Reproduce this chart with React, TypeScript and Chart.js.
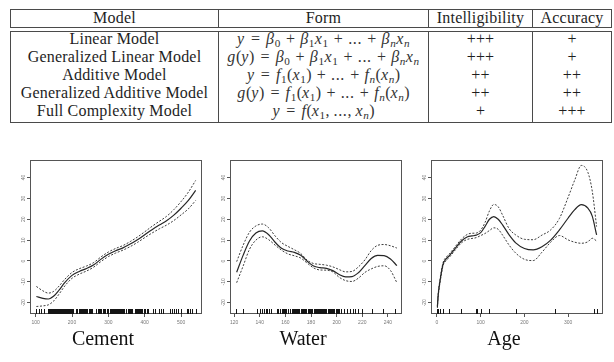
import React, { useEffect, useRef } from "react";
import { Chart, registerables } from "chart.js";

Chart.register(...registerables);

// ---- Summary table ----
const HEADERS = ["Model", "Form", "Intelligibility", "Accuracy"];
const MODELS = [
  "Linear Model",
  "Generalized Linear Model",
  "Additive Model",
  "Generalized Additive Model",
  "Full Complexity Model",
];
const INTELLIGIBILITY = ["+++", "+++", "++", "++", "+"];
const ACCURACY = ["+", "+", "++", "++", "+++"];

// ---- Shape functions: fitted partial effect with upper / lower bands ----
const Y_RANGE = [-25.4, 48.4];
const Y_TICKS = [-20, -10, 0, 10, 20, 30, 40];

const CEMENT_RANGE = [84.5, 557.5];
const CEMENT_TICKS = [100, 200, 300, 400, 500];
const CEMENT_X = [102, 120, 135, 150, 165, 180, 200, 220, 240, 260, 280, 300, 320, 340, 360, 380, 400, 420, 440, 460, 480, 500, 520, 540];
const CEMENT_FIT = [-17.0, -17.9, -18.2, -16.8, -13.8, -10.4, -6.9, -5.0, -3.6, -1.8, 0.9, 3.2, 4.9, 6.3, 8.1, 10.2, 12.6, 15.0, 17.2, 19.3, 22.0, 25.3, 29.0, 33.8];
const CEMENT_UPPER = [-12.2, -14.3, -15.4, -14.5, -11.9, -8.8, -5.5, -3.7, -2.4, -0.7, 2.0, 4.3, 6.0, 7.4, 9.3, 11.5, 14.0, 16.6, 19.0, 21.4, 24.6, 28.5, 33.0, 38.6];
const CEMENT_LOWER = [-21.8, -21.5, -21.0, -19.1, -15.7, -12.0, -8.3, -6.3, -4.8, -2.9, -0.2, 2.1, 3.8, 5.2, 6.9, 8.9, 11.2, 13.4, 15.4, 17.2, 19.4, 22.1, 25.0, 29.0];
const CEMENT_RUG = [102, 108.3, 116, 122.6, 133, 134.7, 136, 139.6, 141.3, 143, 144, 146.5, 148.5, 150, 151.8, 153, 154.8, 156, 158.6, 160, 162, 164, 165, 166.8, 168, 168.9, 173, 175, 176, 178, 181.4, 183.9, 186, 190, 192, 194.7, 196, 198.6, 200, 203.5, 212, 213.7, 214.9, 218.2, 220.8, 222.4, 225, 228, 230, 231.8, 233.8, 236, 238, 239.6, 242.5, 246.8, 250, 252, 254, 255.5, 266, 272.8, 275, 276.4, 277, 280, 281, 284, 286, 288, 290.4, 295.7, 297.2, 298, 300, 304, 305, 307, 310, 312.9, 314, 315, 316.1, 317.9, 320, 322, 323.7, 325, 326, 329, 331, 332.5, 335, 337.9, 339, 340, 342, 348, 349, 354, 355, 356, 359, 362.6, 364, 366, 374, 375, 376, 377, 380, 381.4, 382, 385, 387, 389.9, 393, 397, 401.8, 405, 409, 424, 428, 439, 446, 450.1, 469, 475, 480, 485, 491, 500, 516, 520, 525, 531.3, 540];

const WATER_RANGE = [116.8, 251];
const WATER_TICKS = [120, 140, 160, 180, 200, 220, 240];
const WATER_X = [122, 127, 132, 137, 142, 147, 152, 157, 162, 167, 172, 177, 182, 187, 192, 197, 202, 207, 212, 217, 222, 227, 232, 237, 242, 247];
const WATER_FIT = [-5.4, 2.7, 9.6, 13.4, 14.4, 12.6, 9.0, 6.1, 4.8, 4.1, 2.7, -0.1, -2.4, -3.2, -3.5, -4.6, -6.5, -7.6, -7.5, -5.6, -2.2, 1.2, 2.7, 2.6, 1.0, -2.2];
const WATER_UPPER = [-0.3, 7.5, 13.8, 16.8, 17.7, 15.9, 12.0, 8.8, 7.0, 5.4, 3.6, 0.4, -1.2, -1.6, -2.0, -2.8, -4.1, -5.2, -5.0, -2.8, 0.5, 5.0, 7.5, 7.9, 7.3, 6.2];
const WATER_LOWER = [-10.4, -2.5, 5.6, 10.0, 11.6, 10.2, 7.6, 5.2, 3.4, 2.5, 1.4, -1.0, -3.3, -4.3, -4.4, -5.2, -7.8, -9.4, -9.8, -8.2, -5.5, -3.8, -2.6, -2.3, -4.5, -10.4];
const WATER_RUG = [121.8, 127.3, 137.8, 139.9, 141.8, 143.3, 144.7, 145.9, 147.4, 148.9, 153.5, 154.6, 155.6, 157, 157.9, 158.5, 159.1, 159.9, 160.7, 162, 163.8, 164.9, 165.6, 166.6, 167.5, 168, 169.2, 170, 171, 172.4, 173, 173.5, 174.8, 175.5, 176, 176.4, 177.6, 178, 178.5, 179.6, 180, 181.1, 182, 183, 183.8, 184, 185, 185.7, 186, 186.7, 187.7, 188.2, 189, 190.5, 191, 191.6, 192, 192.9, 193, 193.9, 194.9, 195, 195.5, 196, 197, 198, 199.7, 200, 200.6, 201.3, 202, 203.5, 205.9, 208, 210.6, 212.7, 214.5, 217, 219.7, 227.6, 236.2, 245.8];

const AGE_RANGE = [-13.6, 379.6];
const AGE_TICKS = [0, 100, 200, 300];
const AGE_X = [1, 3, 7, 14, 21, 28, 40, 56, 70, 80, 90, 100, 110, 120, 130, 140, 150, 165, 180, 200, 220, 240, 260, 280, 300, 315, 330, 345, 355, 365];
const AGE_FIT = [-22.0, -16.0, -9.6, -1.5, 1.0, 2.5, 5.6, 9.6, 11.6, 12.0, 12.4, 13.6, 16.6, 20.0, 21.3, 20.0, 17.3, 12.5, 8.7, 6.0, 5.3, 6.8, 10.0, 14.9, 20.6, 24.6, 27.0, 25.3, 21.5, 12.5];
const AGE_UPPER = [-21.5, -15.3, -8.8, -0.8, 1.8, 3.3, 6.4, 10.5, 12.8, 13.3, 13.4, 14.8, 18.5, 24.0, 27.1, 26.0, 22.0, 15.5, 12.5, 10.4, 10.2, 12.4, 14.9, 20.4, 30.6, 38.8, 45.8, 42.5, 33.5, 16.5];
const AGE_LOWER = [-22.5, -16.7, -10.4, -2.2, 0.2, 1.7, 4.8, 8.7, 10.4, 10.8, 11.2, 12.2, 13.2, 14.6, 15.9, 15.2, 12.4, 7.6, 3.8, 0.8, 0.2, 4.2, 9.0, 12.2, 10.1, 9.0, 8.5, 9.2, 10.9, 9.6];
const AGE_RUG = [1, 3, 7, 14, 28, 56, 90, 91, 100, 120, 180, 270, 360, 365];

// ---- Math typesetting helpers for the "Form" column ----
const V = ({ children }: { children: React.ReactNode }) => (
  <span style={{ fontStyle: "italic", letterSpacing: "0.04em" }}>{children}</span>
);
const Sb = ({ children, it }: { children: React.ReactNode; it?: boolean }) => (
  <span style={{ fontSize: "0.7em", position: "relative", top: "0.28em", fontStyle: it ? "italic" : "normal", marginRight: "0.04em" }}>
    {children}
  </span>
);
const Op = ({ children, w = 1.22 }: { children: React.ReactNode; w?: number }) => (
  <span style={{ display: "inline-block", width: `${w}em`, textAlign: "center" }}>{children}</span>
);
const Dots = () => <span style={{ letterSpacing: "0.04em" }}>...</span>;

const BetaSum = () => (
  <>
    <V>β</V><Sb>0</Sb><Op>+</Op><V>β</V><Sb>1</Sb><V>x</V><Sb>1</Sb><Op>+</Op><Dots /><Op>+</Op>
    <V>β</V><Sb it>n</Sb><V>x</V><Sb it>n</Sb>
  </>
);
const FSum = () => (
  <>
    <V>f</V><Sb>1</Sb>(<V>x</V><Sb>1</Sb>)<Op>+</Op><Dots /><Op>+</Op><V>f</V><Sb it>n</Sb>(<V>x</V><Sb it>n</Sb>)
  </>
);

const FORMS: React.ReactNode[] = [
  <><V>y</V><Op w={1.33}>=</Op><BetaSum /></>,
  <><V>g</V>(<V>y</V>)<Op w={1.33}>=</Op><BetaSum /></>,
  <><V>y</V><Op w={1.33}>=</Op><FSum /></>,
  <><V>g</V>(<V>y</V>)<Op w={1.33}>=</Op><FSum /></>,
  <><V>y</V><Op w={1.33}>=</Op><V>f</V>(<V>x</V><Sb>1</Sb>, <Dots />, <V>x</V><Sb it>n</Sb>)</>,
];

const COL_WIDTHS = [208, 210, 104, 78];
const BORDER = "1px solid #4a4a4a";
const TEXT_FONT = "'Liberation Serif', 'Times New Roman', serif";

function ModelTable() {
  const cell = (i: number): React.CSSProperties => ({
    width: COL_WIDTHS[i],
    borderRight: i < COL_WIDTHS.length - 1 ? BORDER : "none",
    boxSizing: "border-box",
    textAlign: "center",
    whiteSpace: "nowrap",
  });
  return (
    <div style={{ fontFamily: TEXT_FONT, fontSize: 16, letterSpacing: "0.2px", color: "#1e1e1e" }}>
      <div style={{ position: "absolute", left: 10, top: 9, width: 602, height: 19, border: BORDER, boxSizing: "border-box", display: "flex" }}>
        {HEADERS.map((h, i) => (
          <div key={h} style={{ ...cell(i), lineHeight: "17px", position: "relative" }}>
            <span style={{ position: "relative", top: -1 }}>{h}</span>
          </div>
        ))}
      </div>
      <div style={{ position: "absolute", left: 10, top: 31, width: 602, height: 92, border: BORDER, boxSizing: "border-box", display: "flex" }}>
        {[MODELS, FORMS, INTELLIGIBILITY, ACCURACY].map((col, i) => (
          <div key={i} style={{ ...cell(i), height: "100%" }}>
            <div style={{ position: "relative", top: -1.8 }}>
              {col.map((v, r) => (
                <div key={r} style={{ height: 17.9, lineHeight: "17.9px", color: i === 1 ? "#333" : undefined, fontSize: i === 1 ? 16 : undefined, letterSpacing: i === 1 ? 0 : undefined }}>
                  {v}
                </div>
              ))}
            </div>
          </div>
        ))}
      </div>
    </div>
  );
}

// ---- Chart plugins ----
const frameBox = {
  id: "frameBox",
  afterDatasetsDraw(chart: any) {
    const { ctx, chartArea: a } = chart;
    ctx.save();
    ctx.strokeStyle = "#555";
    ctx.lineWidth = 1;
    ctx.strokeRect(Math.round(a.left) + 0.5, Math.round(a.top) + 0.5, Math.round(a.right - a.left) - 1, Math.round(a.bottom - a.top) - 1);
    ctx.restore();
  },
};

const rug = {
  id: "rug",
  afterDatasetsDraw(chart: any, _args: any, opts: any) {
    const values: number[] = opts.values || [];
    const { ctx, chartArea } = chart;
    const xs = chart.scales.x;
    ctx.save();
    ctx.strokeStyle = "#151515";
    ctx.lineWidth = 1;
    ctx.beginPath();
    values.forEach((v) => {
      const px = Math.round(xs.getPixelForValue(v)) + 0.5;
      ctx.moveTo(px, chartArea.bottom);
      ctx.lineTo(px, chartArea.bottom - 5);
    });
    ctx.stroke();
    ctx.restore();
  },
};

// Vertical-axis labels are written rotated, reading upwards.
const rotatedYLabels = {
  id: "rotatedYLabels",
  afterDraw(chart: any) {
    const { ctx, chartArea } = chart;
    const ys = chart.scales.y;
    ctx.save();
    ctx.font = "5px 'Liberation Sans', sans-serif";
    ctx.fillStyle = "#777";
    ctx.textAlign = "center";
    ctx.textBaseline = "middle";
    ys.ticks.forEach((t: any) => {
      const py = ys.getPixelForValue(t.value);
      ctx.save();
      ctx.translate(chartArea.left - 6, py);
      ctx.rotate(-Math.PI / 2);
      ctx.fillText(String(t.value), 0, 0);
      ctx.restore();
    });
    ctx.restore();
  },
};

type Spec = {
  title: string;
  range: number[];
  ticks: number[];
  xs: number[];
  fit: number[];
  upper: number[];
  lower: number[];
  rugValues: number[];
};

const toPoints = (xs: number[], ys: number[]) => xs.map((x, i) => ({ x, y: ys[i] }));

const lineSet = (data: any[], dashed: boolean) => ({
  data,
  borderColor: dashed ? "#3c3c3c" : "#262626",
  borderWidth: dashed ? 1 : 1.2,
  borderDash: dashed ? [2, 1.6] : [],
  pointRadius: 0,
  cubicInterpolationMode: "monotone" as const,
  fill: false,
});

function ShapePlot({ spec, left }: { spec: Spec; left: number }) {
  const ref = useRef<HTMLCanvasElement>(null);
  useEffect(() => {
    if (!ref.current) return;
    const tickFont = { family: "'Liberation Sans', sans-serif", size: 5 };
    const chart = new Chart(ref.current, {
      type: "line",
      data: {
        datasets: [
          lineSet(toPoints(spec.xs, spec.fit), false),
          lineSet(toPoints(spec.xs, spec.upper), true),
          lineSet(toPoints(spec.xs, spec.lower), true),
        ],
      },
      options: {
        responsive: false,
        animation: false,
        devicePixelRatio: 1,
        events: [],
        layout: { padding: { left: 0, right: 16, top: 8, bottom: 0 } },
        plugins: {
          legend: { display: false },
          tooltip: { enabled: false },
          title: {
            display: true,
            text: spec.title,
            position: "bottom",
            color: "#111",
            font: { family: TEXT_FONT, size: 20, weight: "normal" },
            padding: { top: 0, bottom: 10.5 },
          },
          rug: { values: spec.rugValues },
        } as any,
        scales: {
          x: {
            type: "linear",
            min: spec.range[0],
            max: spec.range[1],
            afterBuildTicks: (s: any) => {
              s.ticks = spec.ticks.map((value) => ({ value }));
            },
            afterFit: (s: any) => {
              s.height = 13.5;
            },
            ticks: { autoSkip: false, maxRotation: 0, padding: 3, font: tickFont, color: "#777" },
            grid: { drawOnChartArea: false, drawTicks: true, tickLength: 3, color: "#555" },
            border: { display: false },
          },
          y: {
            type: "linear",
            min: Y_RANGE[0],
            max: Y_RANGE[1],
            afterBuildTicks: (s: any) => {
              s.ticks = Y_TICKS.map((value) => ({ value }));
            },
            afterFit: (s: any) => {
              s.width = 26;
            },
            ticks: { display: false },
            grid: { drawOnChartArea: false, drawTicks: true, tickLength: 3, color: "#555" },
            border: { display: false },
          },
        },
      } as any,
      plugins: [frameBox, rug, rotatedYLabels],
    });
    return () => chart.destroy();
  }, [spec]);
  return <canvas ref={ref} width={214} height={210} style={{ position: "absolute", left, top: 152 }} />;
}

const PLOTS: { spec: Spec; left: number }[] = [
  { left: 4, spec: { title: "Cement", range: CEMENT_RANGE, ticks: CEMENT_TICKS, xs: CEMENT_X, fit: CEMENT_FIT, upper: CEMENT_UPPER, lower: CEMENT_LOWER, rugValues: CEMENT_RUG } },
  { left: 204, spec: { title: "Water", range: WATER_RANGE, ticks: WATER_TICKS, xs: WATER_X, fit: WATER_FIT, upper: WATER_UPPER, lower: WATER_LOWER, rugValues: WATER_RUG } },
  { left: 405, spec: { title: "Age", range: AGE_RANGE, ticks: AGE_TICKS, xs: AGE_X, fit: AGE_FIT, upper: AGE_UPPER, lower: AGE_LOWER, rugValues: AGE_RUG } },
];

export default function App() {
  return (
    <div style={{ position: "fixed", left: 0, top: 0, width: 614, height: 362, background: "#fff", overflow: "hidden" }}>
      <ModelTable />
      {PLOTS.map((p) => (
        <ShapePlot key={p.spec.title} spec={p.spec} left={p.left} />
      ))}
    </div>
  );
}
